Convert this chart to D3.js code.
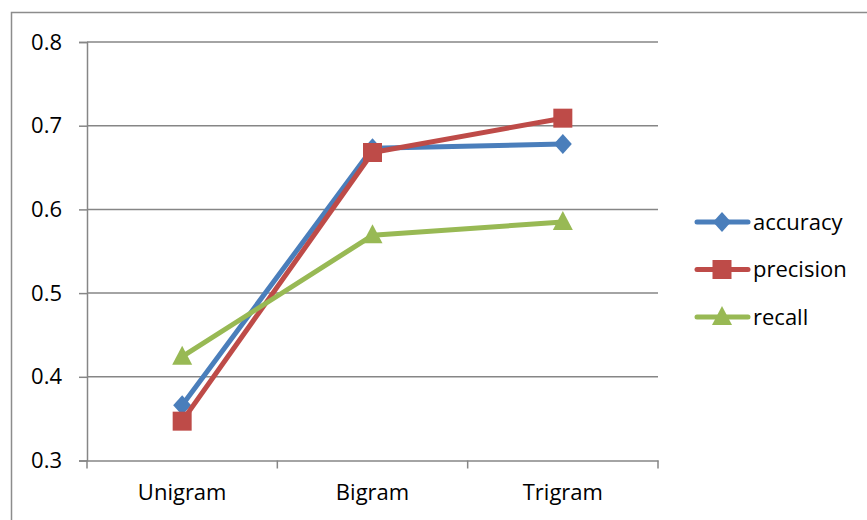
<!DOCTYPE html>
<html>
<head>
<meta charset="utf-8">
<script src="https://cdn.jsdelivr.net/npm/d3@7"></script>
<style>
  html, body { margin: 0; padding: 0; background: #fff; }
  svg { display: block; }
  text { font-family: "Open Sans", sans-serif; fill: #000; }
</style>
</head>
<body>
<svg id="chart" width="867" height="520"></svg>
<script>
const categories = ["Unigram", "Bigram", "Trigram"];
const seriesNames = ["accuracy", "precision", "recall"];
const accuracy = [0.366, 0.673, 0.678];
const precision = [0.347, 0.668, 0.709];
const recall = [0.424, 0.569, 0.585];
const yTicks = [0.3, 0.4, 0.5, 0.6, 0.7, 0.8];

const colors = { accuracy: "#4a7ebb", precision: "#be4b48", recall: "#98b954" };

// marker outlines, centred on the data point
const markerPath = {
  accuracy: "M0,-10L9,0L0,10L-9,0Z",
  precision: "M-9.5,-9.5H9.5V9.5H-9.5Z",
  recall: "M0,-11L10,8H-10Z"
};
const values = { accuracy, precision, recall };

const svg = d3.select("#chart");
const margin = { left: 87, top: 42, right: 658, bottom: 460.5 };
const fontFamily = "'Open Sans', sans-serif";

// outer chart frame
svg.append("rect")
  .attr("x", 11.5).attr("y", 12.5)
  .attr("width", 867).attr("height", 520)
  .attr("fill", "none").attr("stroke", "#8c8c8c").attr("stroke-width", 1.5);

const x = d3.scaleBand().domain(categories).range([margin.left, margin.right]).padding(0);
const y = d3.scaleLinear().domain([0.3, 0.8]).range([margin.bottom, margin.top]);

// horizontal gridlines
svg.append("g").selectAll("line").data(yTicks.slice(1)).join("line")
  .attr("x1", margin.left).attr("x2", margin.right)
  .attr("y1", d => y(d)).attr("y2", d => y(d))
  .attr("stroke", "#868686").attr("stroke-width", 1.5);

// y axis
const yAxis = svg.append("g").attr("transform", `translate(${margin.left},0)`)
  .call(d3.axisLeft(y).tickValues(yTicks).tickFormat(d3.format(".1f")).tickSize(8).tickPadding(17));
yAxis.select(".domain").attr("stroke", "#868686").attr("stroke-width", 1.5);
yAxis.selectAll(".tick line").attr("stroke", "#868686").attr("stroke-width", 1.5);
yAxis.selectAll(".tick text").attr("font-size", 22).attr("font-family", fontFamily).attr("fill", "#000");

// x axis
const xAxis = svg.append("g").attr("transform", `translate(0,${margin.bottom})`)
  .call(d3.axisBottom(x).tickSize(0).tickPadding(24));
xAxis.select(".domain").attr("stroke", "#868686").attr("stroke-width", 1.5);
xAxis.selectAll(".tick text").attr("font-size", 22).attr("font-family", fontFamily).attr("fill", "#000");
// category boundary ticks
const bounds = categories.map(c => x(c)).concat([x(categories[categories.length - 1]) + x.bandwidth()]);
svg.append("g").selectAll("line").data(bounds).join("line")
  .attr("x1", d => d).attr("x2", d => d)
  .attr("y1", margin.bottom).attr("y2", margin.bottom + 8)
  .attr("stroke", "#868686").attr("stroke-width", 1.5);

const cx = c => x(c) + x.bandwidth() / 2;

// series lines and markers
seriesNames.forEach(name => {
  const line = d3.line().x((d, i) => cx(categories[i])).y(d => y(d));
  svg.append("path").datum(values[name])
    .attr("d", line)
    .attr("fill", "none").attr("stroke", colors[name]).attr("stroke-width", 5)
    .attr("stroke-linejoin", "round").attr("stroke-linecap", "round");
  svg.append("g").selectAll("path").data(values[name]).join("path")
    .attr("transform", (d, i) => `translate(${cx(categories[i])},${y(d)})`)
    .attr("d", markerPath[name])
    .attr("fill", colors[name]);
});

// legend
const legend = svg.append("g");
seriesNames.forEach((name, i) => {
  const ly = 222 + i * 47.5;
  const g = legend.append("g").attr("transform", `translate(0,${ly})`);
  g.append("line").attr("x1", 697).attr("x2", 748).attr("y1", 0).attr("y2", 0)
    .attr("stroke", colors[name]).attr("stroke-width", 5).attr("stroke-linecap", "round");
  g.append("path").attr("transform", "translate(722,0)")
    .attr("d", markerPath[name])
    .attr("fill", colors[name]);
  g.append("text").attr("x", 753).attr("y", 0).attr("dy", "0.35em")
    .attr("font-size", 22).attr("font-family", fontFamily).text(name);
});
</script>
</body>
</html>
